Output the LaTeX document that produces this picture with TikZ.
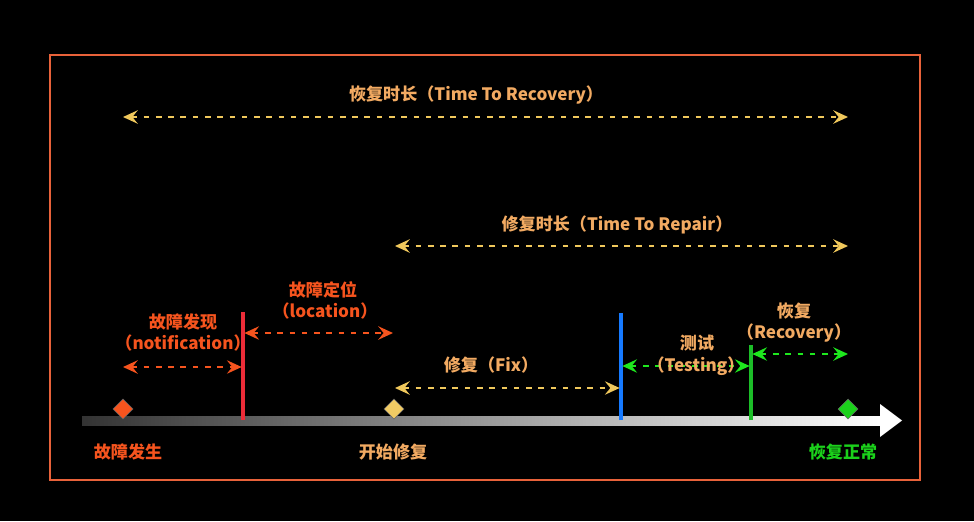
\documentclass[tikz,border=0pt]{standalone}
\usepackage{fontspec}
\setmainfont{Noto Sans CJK SC}
\usetikzlibrary{arrows.meta,shapes.geometric}
\definecolor{frameorange}{RGB}{232,98,58}
\definecolor{peach}{RGB}{242,170,98}
\definecolor{faultred}{RGB}{246,84,30}
\definecolor{spanyellow}{RGB}{240,200,92}
\definecolor{spangreen}{RGB}{30,232,30}
\definecolor{lineblue}{RGB}{22,122,255}
\definecolor{linegreen}{RGB}{28,190,40}
\definecolor{linered}{RGB}{236,44,56}

\begin{document}
\begin{tikzpicture}[x=0.75pt,y=-0.75pt,
  lbl/.style={font=\fontsize{12.8}{14}\selectfont\bfseries, text=peach, inner sep=0pt},
  span/.style={line width=1.8pt, dash pattern=on 4.2pt off 5pt,
    {Stealth[length=11pt,width=10pt,inset=4pt]}-{Stealth[length=11pt,width=10pt,inset=4pt]}},
  event/.style={diamond, inner sep=0pt, minimum size=15pt, draw=black!60, line width=0.4pt},
  stopline/.style={line width=2.4pt}]
  \useasboundingbox[fill=black] (0,0) rectangle (974,521);
  \draw[frameorange, line width=1.3pt] (50,55) rectangle (920,480);

  % time axis
  \shade[left color=black!80!white, right color=white] (82,416) rectangle (882,425);
  \fill[white] (880,404) -- (902,420.5) -- (880,437) -- cycle;

  % events on the axis
  \coordinate (fault) at (123,420);
  \coordinate (found) at (243,420);
  \coordinate (fixstart) at (395,420);
  \coordinate (fixend) at (621,420);
  \coordinate (testend) at (751,420);
  \coordinate (normal) at (848,420);

  \draw[stopline, linered] (found) -- (found |- 0,312);
  \draw[stopline, lineblue] (fixend) -- (fixend |- 0,313);
  \draw[stopline, linegreen] (testend) -- (testend |- 0,345);

  \node[event, fill=faultred] (dfault) at (123,409) {};
  \node[event, fill=spanyellow!95!white] (dfix) at (394,409) {};
  \node[event, fill=spangreen!90!black] (dnormal) at (848,409) {};

  % spans
  \draw[span, spanyellow] (fault |- 0,117) -- (normal |- 0,117);
  \draw[span, spanyellow] (fixstart |- 0,246) -- (normal |- 0,246);
  \draw[span, faultred] (fault |- 0,367) -- ([xshift=-1pt]found |- 0,367);
  \draw[span, faultred] ([xshift=1pt]found |- 0,333) -- (393,333);
  \draw[span, spanyellow] (fixstart |- 0,388) -- ([xshift=-1pt]fixend |- 0,388);
  \draw[span, spangreen] ([xshift=1pt]fixend |- 0,366) -- ([xshift=-1pt]testend |- 0,366);
  \draw[span, spangreen] ([xshift=1pt]testend |- 0,354) -- (normal |- 0,354);

  % labels
  \node[lbl] (ttr) at (476,95) {恢复时长（Time To Recovery）};
  \node[lbl] (ttrep) at (617,225) {修复时长（Time To Repair）};
  \node[lbl, text=faultred] (notif1) at (183,322) {故障发现};
  \node[lbl, text=faultred] (notif2) at (183,343) {（notification）};
  \node[lbl, text=faultred] (loc1) at (323,290) {故障定位};
  \node[lbl, text=faultred] (loc2) at (325,311) {（location）};
  \node[lbl] (fix) at (491,365) {修复（Fix）};
  \node[lbl] (test1) at (697,343) {测试};
  \node[lbl] (test2) at (696,366) {（Testing）};
  \node[lbl] (rec1) at (794,311) {恢复};
  \node[lbl] (rec2) at (794,333) {（Recovery）};
  \node[lbl, text=faultred] (lfault) at (128,452) {故障发生};
  \node[lbl] (lfix) at (393,452) {开始修复};
  \node[lbl, text=spangreen!90!black] (lnormal) at (843,452) {恢复正常};
\end{tikzpicture}
\end{document}
